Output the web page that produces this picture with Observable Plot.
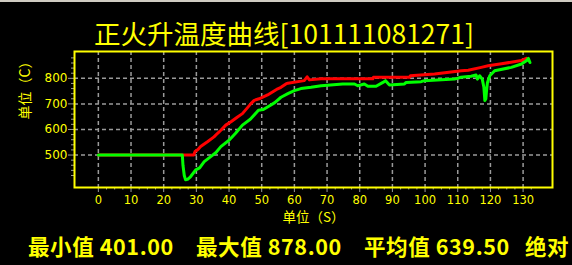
<!DOCTYPE html>
<html>
<head>
<meta charset="utf-8">
<script src="https://cdn.jsdelivr.net/npm/d3@7"></script>
<script src="https://cdn.jsdelivr.net/npm/@observablehq/plot@0.6"></script>
<style>
  html, body { margin: 0; padding: 0; background: #000; overflow: hidden; }
  #wrap { position: relative; width: 572px; height: 265px; background: #000; }
  #topline { position: absolute; left: 0; top: 0; width: 572px; height: 2px; background: #cfcbc2; }
  #title { position: absolute; left: -2px; top: 20px; width: 572px; text-align: center;
           font-family: "Noto Sans CJK SC", sans-serif; font-size: 26.5px; line-height: 26px; color: #ffff00; white-space: nowrap; }
  #chart { position: absolute; left: 0; top: 0; }
  .stat { position: absolute; top: 234px; font-family: "Noto Sans CJK SC", sans-serif; font-weight: bold;
          font-size: 21.5px; line-height: 24px; color: #ffff00; white-space: nowrap; letter-spacing: 0.6px; }
</style>
</head>
<body>
<div id="wrap">
  <div id="chart"></div>
  <div id="topline"></div>
  <div id="title"></div>
  <div id="stats"></div>
</div>
<script>
// ---- data ----
const titleText = "正火升温度曲线[101111081271]";
const xLabel = "单位（S）";
const yLabel = "单位（C）";
const statLabels = ["最小值 401.00", "最大值 878.00", "平均值 639.50", "绝对"];

const xTicks = [0, 10, 20, 30, 40, 50, 60, 70, 80, 90, 100, 110, 120, 130];
const yTicks = [500, 600, 700, 800];

const redT = [0, 26, 29.2, 29.6, 30.5, 31.3, 33.4, 35.4, 36.5, 37.5, 39, 40.6, 42.6, 44.1, 46.7, 47.7, 49.2, 51.8, 52.3, 54.9, 55.9, 57.4, 58, 63, 63.9, 64.6, 68.2, 84, 84.2, 95.2, 95.5, 102.9, 111.1, 113.2, 117.2, 119.3, 123.4, 129.5, 131];
const redV = [500, 500, 500, 514, 522, 533, 552, 571, 585, 597, 617, 630, 649, 662, 701, 714, 720, 735, 739, 759, 765, 778, 781, 791, 806, 794, 798, 798, 804, 804, 810, 817, 830, 832, 843, 849, 857, 870, 878];

const greenT = [0, 25.7, 25.9, 26.3, 26.7, 27.3, 28.2, 29.8, 31, 32.4, 34.4, 36, 37.5, 40, 42, 44.1, 46.5, 49, 50.5, 51.8, 54, 55.9, 58, 60, 62, 65.1, 68.2, 74.8, 78.4, 79.4, 81.4, 82.5, 85, 87.1, 87.9, 89.1, 93.7, 94.2, 98.8, 99.8, 109, 111, 114.1, 115.6, 116, 116.7, 117.5, 118, 118.3, 118.6, 118.8, 119.1, 119.8, 121.3, 126.4, 129.5, 131, 131.6, 132.1];
const greenV = [500, 500, 460, 420, 403, 405, 415, 442, 450, 474, 494, 510, 533, 558, 585, 617, 640, 675, 678, 688, 705, 726, 740, 752, 760, 765, 771, 778, 778, 771, 778, 769, 769, 784, 791, 774, 778, 784, 787, 791, 797, 804, 808, 813, 797, 810, 797, 765, 713, 720, 750, 784, 810, 830, 843, 856, 869, 878, 862];

// ---- build ----
const red = redT.map((t, i) => ({t, v: redV[i]}));
const green = greenT.map((t, i) => ({t, v: greenV[i]}));
const xMinor = d3.range(0, 132.6, 2.5).filter(d => d % 10 !== 0);
const yMinor = d3.range(420, 881, 20).filter(d => d % 100 !== 0);

document.getElementById("title").textContent = titleText;
const statsLeft = [28, 196, 364, 525];
const stats = document.getElementById("stats");
statLabels.forEach((s, i) => {
  const el = document.createElement("div");
  el.className = "stat";
  el.style.left = statsLeft[i] + "px";
  el.textContent = s;
  stats.appendChild(el);
});

const gray = "#9a9a9a";
const chart = Plot.plot({
  width: 572,
  height: 265,
  marginLeft: 74,
  marginRight: 20,
  marginTop: 51,
  marginBottom: 78,
  style: {background: "transparent", color: "#ffff00", fontFamily: "DejaVu Sans, sans-serif", overflow: "visible"},
  x: {domain: [-7.3, 139]},
  y: {domain: [373, 905]},
  marks: [
    Plot.gridX(xTicks, {stroke: gray, strokeOpacity: 1, strokeWidth: 1.5, strokeDasharray: "4,3"}),
    Plot.gridY(yTicks, {stroke: gray, strokeOpacity: 1, strokeWidth: 1.5, strokeDasharray: "4,3"}),
    Plot.axisX(xMinor, {tickSize: 2.5, text: null, stroke: gray, label: null}),
    Plot.axisX(xTicks, {tickSize: 5, tickPadding: 3, stroke: gray, fill: "#ffff00", fontSize: 11.5, label: null}),
    Plot.axisY(yMinor, {tickSize: 3, text: null, stroke: gray, label: null}),
    Plot.axisY(yTicks, {tickSize: 6, tickPadding: 1, stroke: gray, fill: "#ffff00", fontSize: 12, label: null}),
    Plot.text([xLabel], {frameAnchor: "bottom", dy: 34, fontSize: 13.5, fill: "#ffff00", fontFamily: "Noto Sans CJK SC"}),
    Plot.text([yLabel], {frameAnchor: "left", dx: -49, rotate: -90, fontSize: 14, fill: "#ffff00", fontFamily: "Noto Sans CJK SC"}),
    Plot.line(red, {x: "t", y: "v", stroke: "#ff0000", strokeWidth: 3}),
    Plot.line(green, {x: "t", y: "v", stroke: "#00ff00", strokeWidth: 3}),
    Plot.frame({stroke: "#ffff00", strokeWidth: 2})
  ]
});
document.getElementById("chart").appendChild(chart);
</script>
</body>
</html>
